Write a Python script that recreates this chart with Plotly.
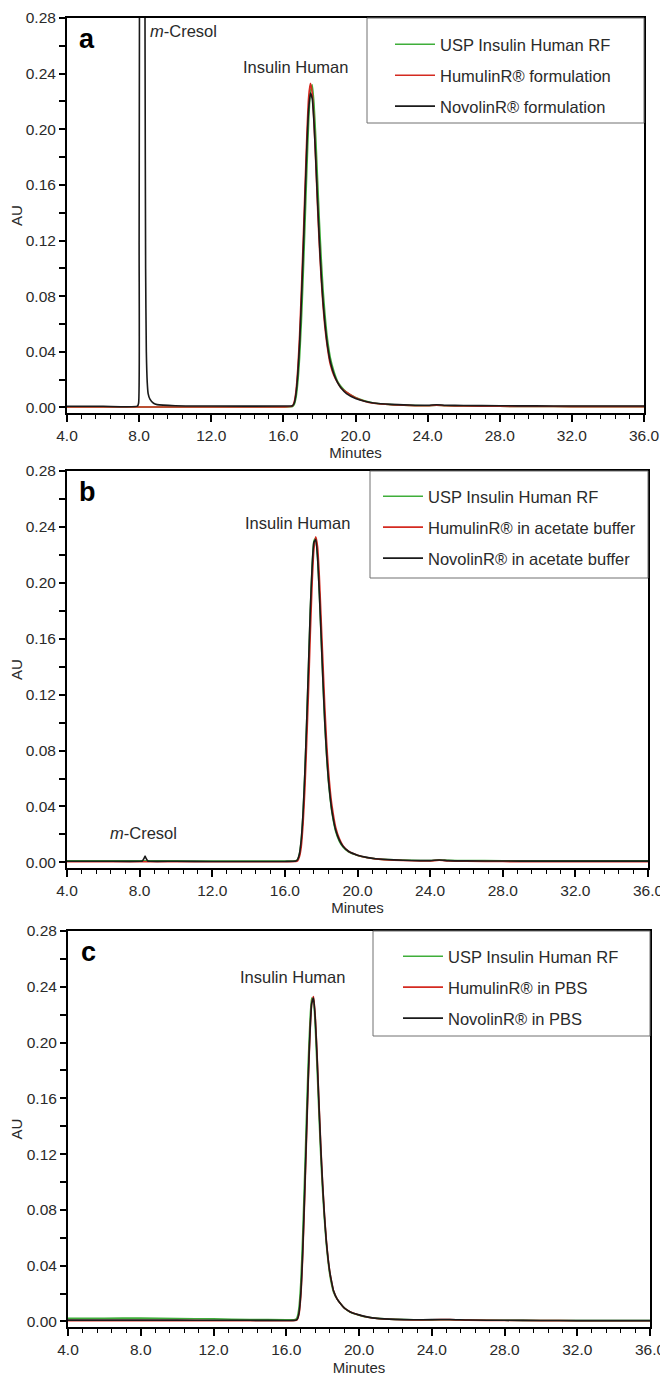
import plotly.graph_objects as go

# page body has an 8 px margin: the figure starts 8 px in from the top-left corner
OFF = 8
W, H = 668 - OFF, 1376 - OFF

# ---------------- data ----------------
series_names_a = ["USP Insulin Human RF", "HumulinR® formulation", "NovolinR® formulation"]
series_names_b = ["USP Insulin Human RF", "HumulinR® in acetate buffer", "NovolinR® in acetate buffer"]
series_names_c = ["USP Insulin Human RF", "HumulinR® in PBS", "NovolinR® in PBS"]

# Panel a
t_a = [4.0, 8.0, 12.0, 16.0, 16.5, 16.6, 16.7, 16.8, 16.9, 17.0, 17.1, 17.2, 17.3, 17.4, 17.5, 17.6,
       17.7, 17.8, 17.9, 18.0, 18.1, 18.2, 18.3, 18.4, 18.5, 18.6, 18.8, 19.0, 19.2, 19.5, 20.0, 20.5,
       21.0, 22.0, 23.0, 24.0, 24.5, 25.0, 26.0, 28.0, 30.0, 32.0, 34.0, 36.0]
usp_a = [0.0003, 0.0003, 0.0003, 0.0004, 0.0006, 0.002, 0.007, 0.018, 0.036, 0.062, 0.095, 0.132, 0.170,
         0.205, 0.227, 0.232, 0.218, 0.193, 0.163, 0.133, 0.107, 0.085, 0.068, 0.054, 0.044, 0.036, 0.026,
         0.019, 0.015, 0.011, 0.0072, 0.0048, 0.0032, 0.002, 0.0015, 0.0012, 0.0016, 0.0012, 0.001, 0.0008,
         0.0007, 0.0006, 0.0006, 0.0006]
humulin_a = [0.0003, 0.0003, 0.0003, 0.0004, 0.001, 0.004, 0.012, 0.028, 0.052, 0.085, 0.120, 0.158, 0.195,
             0.223, 0.233, 0.226, 0.205, 0.175, 0.143, 0.115, 0.092, 0.073, 0.058, 0.047, 0.038, 0.031,
             0.023, 0.018, 0.014, 0.011, 0.007, 0.0045, 0.003, 0.0019, 0.0014, 0.0012, 0.0016, 0.0012,
             0.001, 0.0008, 0.0007, 0.0006, 0.0006, 0.0006]
t_nov_a = [4.0, 6.0, 7.9, 7.97, 8.0, 8.03, 8.08, 8.18, 8.28, 8.33, 8.36, 8.4, 8.45, 8.5, 8.6, 8.8, 9.0,
           10.0, 12.0, 16.0, 16.5, 16.6, 16.7, 16.8, 16.9, 17.0, 17.1, 17.2, 17.3, 17.4, 17.5, 17.6, 17.7,
           17.8, 17.9, 18.0, 18.1, 18.2, 18.3, 18.4, 18.5, 18.6, 18.8, 19.0, 19.2, 19.5, 20.0, 20.5, 21.0,
           22.0, 23.0, 24.0, 24.5, 25.0, 26.0, 28.0, 30.0, 32.0, 34.0, 36.0]
novolin_a = [0.0008, 0.0008, 0.0009, 0.003, 0.12, 0.40, 0.80, 1.0, 0.60, 0.25, 0.10, 0.04, 0.018, 0.010,
             0.006, 0.003, 0.002, 0.0012, 0.001, 0.001, 0.0012, 0.003, 0.010, 0.024, 0.046, 0.077, 0.112,
             0.150, 0.187, 0.214, 0.226, 0.222, 0.204, 0.177, 0.147, 0.119, 0.095, 0.076, 0.061, 0.049,
             0.040, 0.033, 0.024, 0.018, 0.014, 0.010, 0.0065, 0.0045, 0.0032, 0.0022, 0.0018, 0.0016,
             0.0019, 0.0016, 0.0014, 0.0012, 0.0011, 0.001, 0.001, 0.001]

# Panel b
t_b = [4.0, 6.0, 8.0, 10.0, 12.0, 14.0, 16.0, 16.6, 16.7, 16.8, 16.9, 17.0, 17.1, 17.2, 17.3, 17.4, 17.5,
       17.6, 17.7, 17.8, 17.9, 18.0, 18.1, 18.2, 18.3, 18.4, 18.5, 18.6, 18.8, 19.0, 19.2, 19.5, 20.0,
       20.5, 21.0, 22.0, 23.0, 24.0, 24.5, 25.0, 26.0, 28.0, 30.0, 32.0, 34.0, 36.0]
usp_b = [0.0012, 0.0012, 0.0011, 0.0011, 0.0010, 0.0010, 0.0010, 0.0012, 0.002, 0.006, 0.016, 0.035,
         0.064, 0.100, 0.140, 0.180, 0.212, 0.230, 0.232, 0.218, 0.192, 0.160, 0.128, 0.099, 0.076, 0.058,
         0.045, 0.035, 0.022, 0.015, 0.011, 0.0075, 0.005, 0.0035, 0.0025, 0.0018, 0.0015, 0.0014, 0.0018,
         0.0015, 0.0013, 0.0012, 0.0011, 0.0011, 0.0011, 0.0011]
humulin_b = [0.0005, 0.0005, 0.0005, 0.0005, 0.0005, 0.0005, 0.0005, 0.0006, 0.001, 0.004, 0.011, 0.027,
             0.052, 0.085, 0.122, 0.163, 0.199, 0.224, 0.233, 0.226, 0.204, 0.173, 0.142, 0.111, 0.086,
             0.066, 0.051, 0.040, 0.025, 0.017, 0.012, 0.008, 0.0052, 0.0035, 0.0025, 0.0016, 0.0012,
             0.0011, 0.0015, 0.0011, 0.0008, 0.0006, 0.0005, 0.0005, 0.0005, 0.0005]
t_nov_b = [4.0, 6.0, 8.0, 8.15, 8.25, 8.3, 8.35, 8.45, 8.6, 10.0, 12.0, 14.0, 16.0, 16.6, 16.7, 16.8, 16.9,
           17.0, 17.1, 17.2, 17.3, 17.4, 17.5, 17.6, 17.7, 17.8, 17.9, 18.0, 18.1, 18.2, 18.3, 18.4, 18.5,
           18.6, 18.8, 19.0, 19.2, 19.5, 20.0, 20.5, 21.0, 22.0, 23.0, 24.0, 24.5, 25.0, 26.0, 28.0, 30.0,
           32.0, 34.0, 36.0]
novolin_b = [0.0008, 0.0008, 0.0008, 0.001, 0.003, 0.0045, 0.003, 0.001, 0.0008, 0.0008, 0.0007, 0.0007,
             0.0007, 0.001, 0.002, 0.006, 0.016, 0.035, 0.064, 0.100, 0.140, 0.180, 0.211, 0.229, 0.231,
             0.218, 0.192, 0.161, 0.129, 0.100, 0.077, 0.059, 0.046, 0.036, 0.023, 0.016, 0.0115, 0.008,
             0.0052, 0.0036, 0.0026, 0.0018, 0.0014, 0.0013, 0.0017, 0.0013, 0.0011, 0.001, 0.0009, 0.0009,
             0.0009, 0.0009]

# Panel c
t_c = [4.0, 6.0, 8.0, 10.0, 12.0, 14.0, 16.0, 16.5, 16.6, 16.7, 16.8, 16.9, 17.0, 17.1, 17.2, 17.3, 17.4,
       17.5, 17.6, 17.7, 17.8, 17.9, 18.0, 18.1, 18.2, 18.3, 18.4, 18.5, 18.6, 18.8, 19.0, 19.2, 19.5,
       20.0, 20.5, 21.0, 22.0, 23.0, 24.0, 25.0, 26.0, 28.0, 30.0, 32.0, 34.0, 36.0]
usp_c = [0.0022, 0.0023, 0.0024, 0.0021, 0.0018, 0.0014, 0.0012, 0.0014, 0.003, 0.010, 0.028, 0.060,
         0.100, 0.142, 0.183, 0.214, 0.232, 0.230, 0.210, 0.180, 0.148, 0.118, 0.093, 0.073, 0.056, 0.043,
         0.033, 0.026, 0.021, 0.016, 0.0125, 0.0095, 0.0068, 0.0045, 0.003, 0.0022, 0.0015, 0.0012,
         0.0011, 0.0012, 0.001, 0.0008, 0.0007, 0.0006, 0.0006, 0.0006]
humulin_c = [0.0006, 0.0006, 0.0006, 0.0006, 0.0005, 0.0005, 0.0005, 0.0006, 0.0012, 0.005, 0.018, 0.045,
             0.083, 0.125, 0.168, 0.204, 0.228, 0.233, 0.218, 0.190, 0.157, 0.126, 0.099, 0.077, 0.059,
             0.045, 0.035, 0.028, 0.022, 0.016, 0.0125, 0.0095, 0.007, 0.0046, 0.003, 0.0021, 0.0014,
             0.0011, 0.0012, 0.0013, 0.0009, 0.0007, 0.0006, 0.0005, 0.0005, 0.0005]
novolin_c = [0.0009, 0.0009, 0.0009, 0.0009, 0.0008, 0.0008, 0.0007, 0.0008, 0.0015, 0.006, 0.020, 0.048,
             0.087, 0.129, 0.171, 0.206, 0.228, 0.232, 0.216, 0.188, 0.155, 0.124, 0.098, 0.076, 0.058,
             0.045, 0.035, 0.028, 0.022, 0.016, 0.0125, 0.0095, 0.007, 0.0047, 0.0031, 0.0022, 0.0015,
             0.0012, 0.0013, 0.0014, 0.001, 0.0008, 0.0007, 0.0006, 0.0006, 0.0006]

x_ticks = [4.0, 8.0, 12.0, 16.0, 20.0, 24.0, 28.0, 32.0, 36.0]
y_ticks = [0.00, 0.04, 0.08, 0.12, 0.16, 0.20, 0.24, 0.28]

# ---------------- styling ----------------
GREEN = "#3fae3a"
RED = "#d42a20"
BLACK = "#1a1a1a"
FONT = "Liberation Sans, Arial, sans-serif"
TXT = "#2a2a2a"


def px(x):
    return (x - OFF) / W


def py(y):
    return 1 - (y - OFF) / H


# pixel geometry of the three panels in the reference: (left, right, top, bottom)
panels = [(67, 644, 18, 413), (67, 648, 471, 868), (68, 650, 931, 1327)]

fig = go.Figure()

panel_data = [
    (series_names_a, [(t_a, usp_a), (t_a, humulin_a), (t_nov_a, novolin_a)]),
    (series_names_b, [(t_b, usp_b), (t_b, humulin_b), (t_nov_b, novolin_b)]),
    (series_names_c, [(t_c, usp_c), (t_c, humulin_c), (t_c, novolin_c)]),
]
colors = [GREEN, RED, BLACK]

for p, (names, curves) in enumerate(panel_data):
    suffix = "" if p == 0 else str(p + 1)
    for k, ((tx, ty), nm, col) in enumerate(zip(curves, names, colors)):
        fig.add_trace(go.Scatter(
            x=tx, y=ty, mode="lines", name=nm,
            line=dict(color=col, width=1.6, shape="spline", smoothing=0.5),
            xaxis="x" + suffix, yaxis="y" + suffix,
            legend="legend" + suffix, legendgroup=f"g{p}{k}",
            showlegend=True,
        ))

layout = dict(
    template="none",
    width=W, height=H, autosize=False,
    margin=dict(l=0, r=0, t=0, b=0, pad=0, autoexpand=False),
    paper_bgcolor="white", plot_bgcolor="white",
    font=dict(family=FONT, size=15, color=TXT),
)

shapes = []
annotations = []
leg_rows_top = [25, 24, 24]
legend_text_x = [440, 428, 448]
minutes_standoff = [2, 2, 6]

for p, (l, r, t, b) in enumerate(panels):
    suffix = "" if p == 0 else str(p + 1)
    layout["xaxis" + suffix] = dict(
        domain=[px(l), px(r)], anchor="y" + suffix, range=[4, 36], automargin=False,
        tickmode="array", tickvals=x_ticks, ticktext=[f"{v:.1f}" for v in x_ticks],
        ticklabeloverflow="allow",
        ticks="outside", ticklen=7, tickwidth=1.5, tickcolor="black",
        minor=dict(dtick=0.8, tick0=4, ticks="outside", ticklen=4, tickwidth=1.2, tickcolor="black",
                   showgrid=False),
        showline=True, linewidth=2, linecolor="black", mirror=True,
        showgrid=False, zeroline=False,
        tickfont=dict(family=FONT, size=15.5, color=TXT),
        title=dict(text="Minutes", font=dict(family=FONT, size=15, color=TXT),
                   standoff=minutes_standoff[p]),
    )
    layout["yaxis" + suffix] = dict(
        domain=[py(b), py(t)], anchor="x" + suffix, range=[-0.004, 0.28], automargin=False,
        tickmode="array", tickvals=y_ticks, ticktext=[f"{v:.2f}" for v in y_ticks],
        ticks="outside", ticklen=6, tickwidth=1.5, tickcolor="black",
        minor=dict(tickvals=[0.02, 0.06, 0.10, 0.14, 0.18, 0.22, 0.26], ticks="outside",
                   ticklen=6, tickwidth=1.5, tickcolor="black", showgrid=False),
        showline=True, linewidth=2, linecolor="black", mirror=True,
        showgrid=False, zeroline=False,
        tickfont=dict(family=FONT, size=15.5, color=TXT),
        title=dict(text="AU", font=dict(family=FONT, size=15, color=TXT), standoff=0),
    )
    # legend box
    box_left = [367, 370, 373][p]
    box_bottom = [123, 578, 1036][p]
    shapes.append(dict(type="rect", xref="paper", yref="paper",
                       x0=px(box_left), x1=px(r), y0=py(box_bottom), y1=py(t),
                       line=dict(color="#707070", width=1), fillcolor="rgba(0,0,0,0)", layer="above"))
    layout["legend" + suffix] = dict(
        x=px(legend_text_x[p] - 50), xanchor="left",
        y=py(t + leg_rows_top[p] - 16), yanchor="top",
        bgcolor="rgba(0,0,0,0)", borderwidth=0,
        font=dict(family=FONT, size=16.5, color=TXT),
        tracegroupgap=6.5, itemwidth=40,
    )
    # panel letter
    annotations.append(dict(text="<b>" + "abc"[p] + "</b>", xref="paper", yref="paper",
                            x=px(l + 20), y=py(t + 21), xanchor="center", yanchor="middle",
                            showarrow=False, font=dict(family=FONT, size=27, color="black")))

# peak labels (data coordinates)
LBL = dict(family=FONT, size=16.5, color=TXT)
annotations += [
    dict(text="<i>m</i>-Cresol", x=8.49, y=0.271, xref="x", yref="y", xanchor="left", yanchor="middle",
         showarrow=False, font=LBL),
    dict(text="Insulin Human", x=16.65, y=0.245, xref="x", yref="y", xanchor="center", yanchor="middle",
         showarrow=False, font=LBL),
    dict(text="<i>m</i>-Cresol", x=8.24, y=0.021, xref="x2", yref="y2", xanchor="center", yanchor="middle",
         showarrow=False, font=LBL),
    dict(text="Insulin Human", x=16.72, y=0.243, xref="x2", yref="y2", xanchor="center", yanchor="middle",
         showarrow=False, font=LBL),
    dict(text="Insulin Human", x=16.33, y=0.247, xref="x3", yref="y3", xanchor="center", yanchor="middle",
         showarrow=False, font=LBL),
]

layout["shapes"] = shapes
layout["annotations"] = annotations
fig.update_layout(**layout)

fig.write_html("out.html")
